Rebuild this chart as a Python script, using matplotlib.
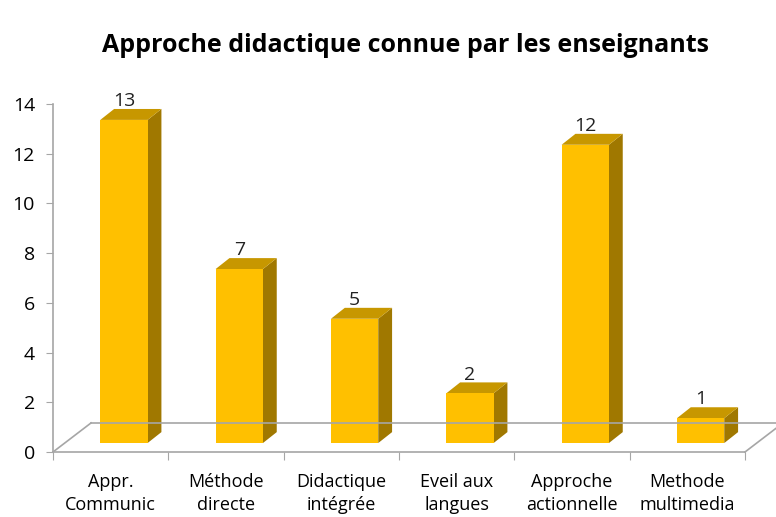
import numpy as np
import matplotlib.pyplot as plt
from matplotlib.patches import Polygon

plt.rcParams['font.family'] = ['Open Sans', 'DejaVu Sans']

categories = ["Appr.\nCommunic", "Méthode\ndirecte", "Didactique\nintégrée",
              "Eveil aux\nlangues", "Approche\nactionnelle", "Methode\nmultimedia"]
values = [13, 7, 5, 2, 12, 1]
title = "Approche didactique connue par les enseignants"

front_col = "#FFC000"
top_col = "#C79700"
side_col = "#A07800"
axis_col = "#A6A6A6"

fig = plt.figure(figsize=(7.76, 5.17), dpi=100)
ax = fig.add_axes([53 / 776, 65 / 517, 692 / 776, 348 / 517])
ax.set_xlim(0, len(categories))
ax.set_ylim(0, 14)

# floor depth and bar depth (data units)
fdx, fdy = 0.33, 1.17
bdx, bdy = 0.12, 0.44
base = 0.36
bw = 0.41
off = 0.41

# floor
n = len(categories)
ax.plot([0, fdx], [0, fdy], color=axis_col, lw=1.2, clip_on=False)
ax.plot([fdx, n + fdx], [fdy, fdy], color=axis_col, lw=1.2, clip_on=False)
ax.plot([n, n + fdx], [0, fdy], color=axis_col, lw=1.2, clip_on=False)

for i, v in enumerate(values):
    x0 = i + off
    x1 = x0 + bw
    top = base + v
    ax.add_patch(Polygon([(x1, base), (x1 + bdx, base + bdy), (x1 + bdx, top + bdy), (x1, top)],
                         closed=True, fc=side_col, ec='none'))
    ax.add_patch(Polygon([(x0, top), (x1, top), (x1 + bdx, top + bdy), (x0 + bdx, top + bdy)],
                         closed=True, fc=top_col, ec='none'))
    ax.bar(x0, v, width=bw, bottom=base, align='edge', color=front_col, edgecolor='none')
    ax.text(x0 + bw / 2, top + bdy - 0.05, str(v), ha='center', va='bottom',
            fontsize=14, color='#222222')

ax.set_yticks(np.arange(0, 15, 2))
ax.set_xticks(np.arange(0, n + 1), minor=False)
ax.set_xticklabels([])
ax.set_xticks(np.arange(n) + 0.5, minor=True)
ax.set_xticklabels(categories, minor=True, fontsize=13, linespacing=1.35)
ax.tick_params(axis='x', which='minor', length=0, pad=15)
ax.tick_params(axis='x', which='major', length=6, color=axis_col, direction='out')
ax.tick_params(axis='y', length=5, color=axis_col, labelsize=14, pad=8)

for s in ['top', 'right']:
    ax.spines[s].set_visible(False)
for s in ['left', 'bottom']:
    ax.spines[s].set_color(axis_col)
    ax.spines[s].set_linewidth(1.2)

fig.text(405 / 776, 1 - 46 / 517, title, ha='center', va='center', fontsize=18, fontweight='bold')

fig.savefig("out.png", dpi=100)
